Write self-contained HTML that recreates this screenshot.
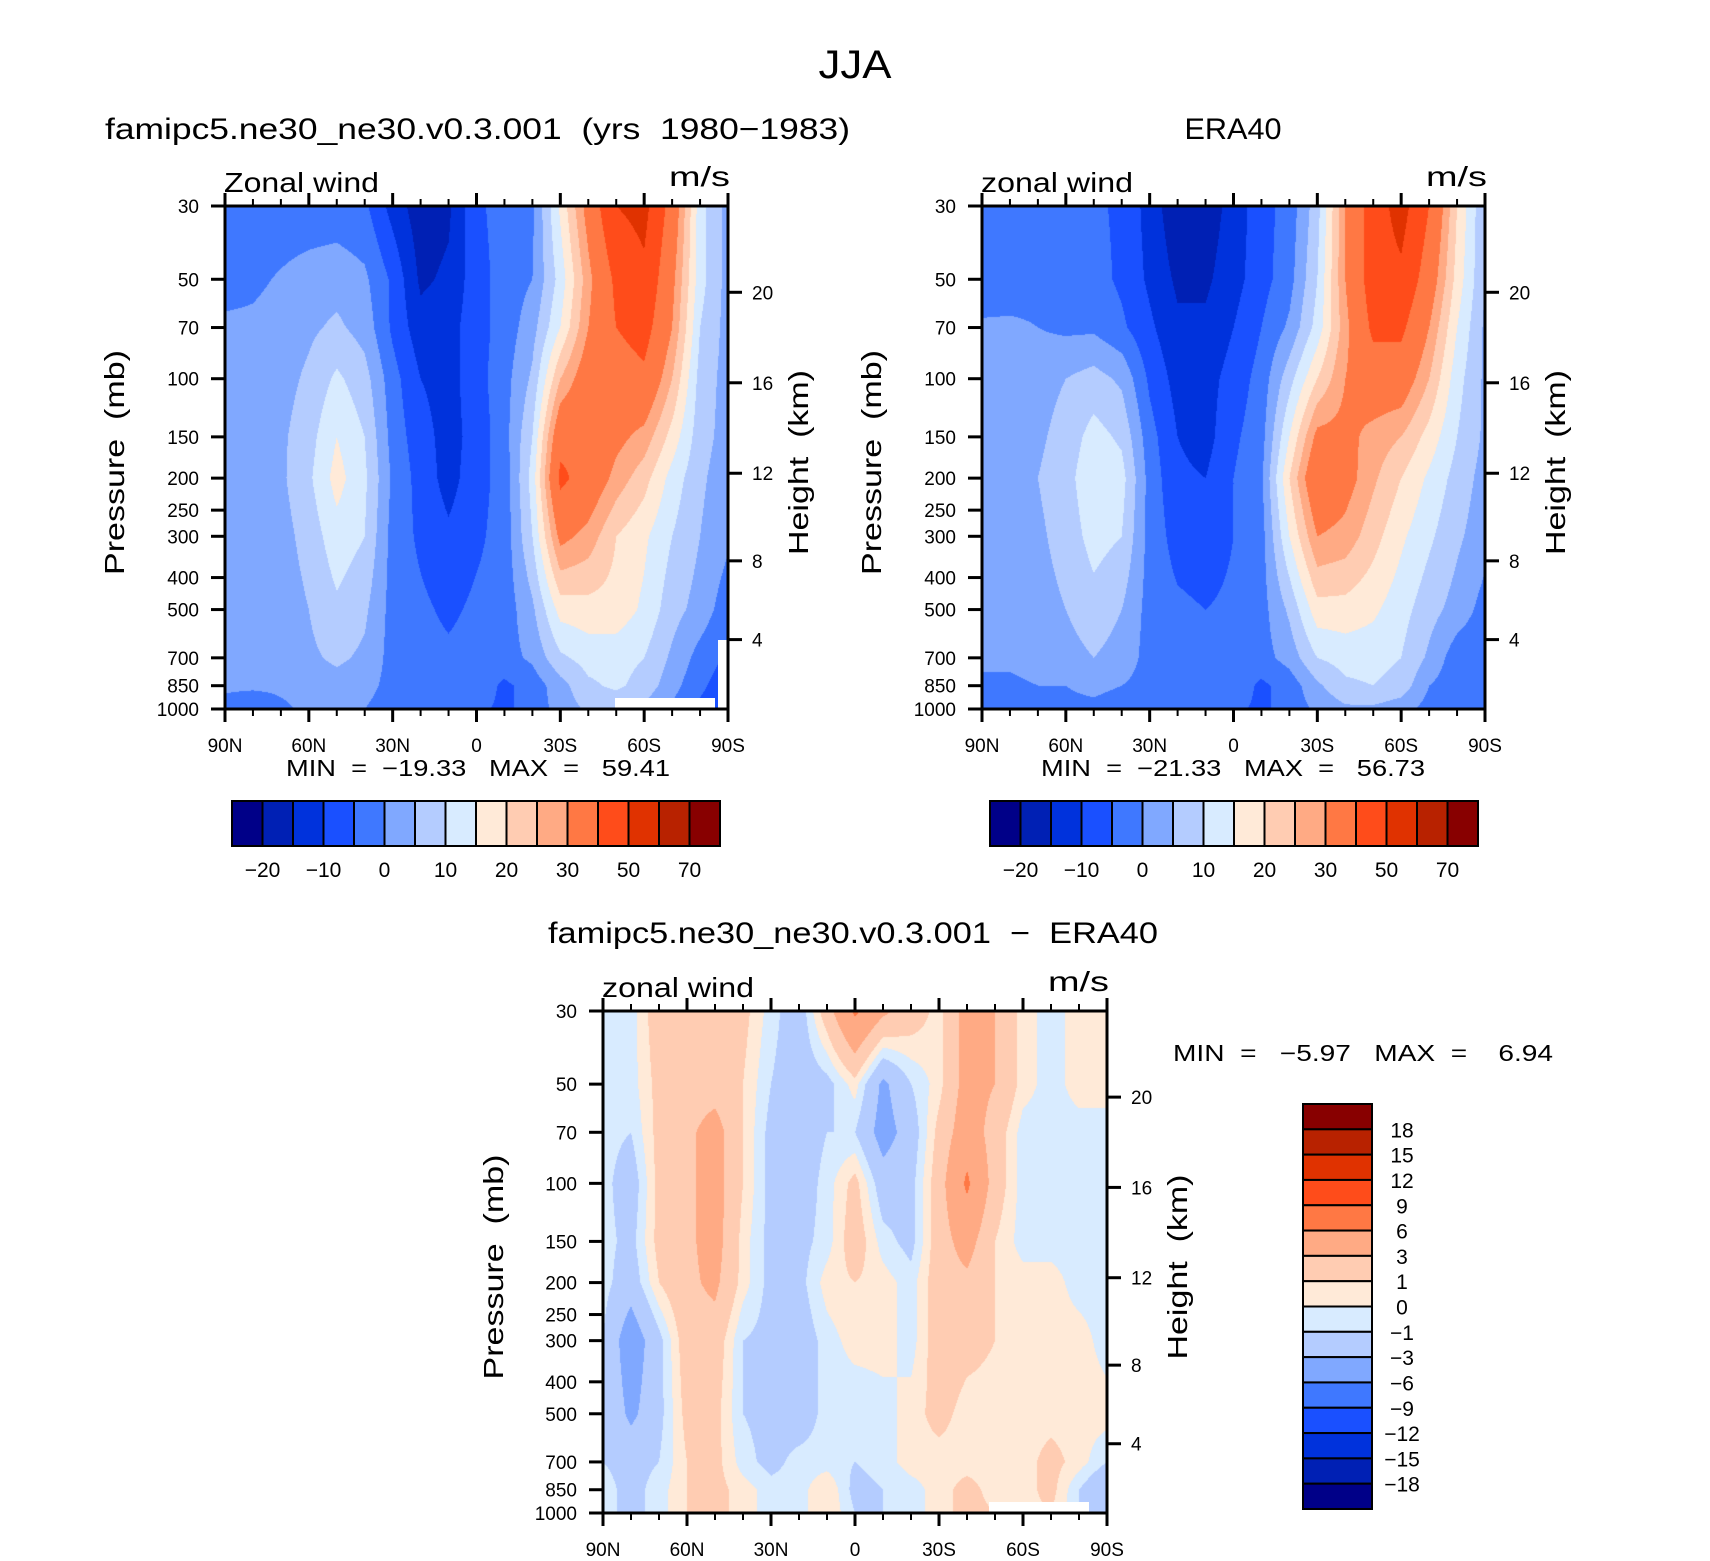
<!DOCTYPE html>
<html><head><meta charset="utf-8">
<style>
html,body{margin:0;padding:0;background:#fff;}
#wrap{position:relative;width:1710px;height:1561px;overflow:hidden;background:#fff;}
canvas{position:absolute;}
svg{position:absolute;left:0;top:0;}
text{font-family:"Liberation Sans",sans-serif;fill:#000;white-space:pre;}
</style></head>
<body>
<div id="wrap">
<canvas id="c1"></canvas>
<canvas id="c2"></canvas>
<canvas id="c3"></canvas>
<svg id="ov" width="1710" height="1561"></svg>
</div>
<script>
// ---------- data ----------
const lats = [90,80,70,60,50,40,30,20,10,0,-10,-20,-30,-40,-50,-60,-70,-80,-90];
const plevs = [30,50,70,100,150,200,300,500,700,850,1000];
const modelU = [
[-3,-3,-3,-3,-3,-4,-12,-18,-16,-6,-3,-1,16,33,50,53,36,12,3],
[-2,-1,0.5,2,3,1,-6,-16,-14,-7,-3,0,12,28,42,48,32,12,3],
[1,1,2,4,6,3,-6,-13,-12,-7,-3,3,15,30,40,44,30,10,3],
[1,2,3,6,11,7,-3,-10,-12,-7,-2,6,25,35,35,38,25,8,3],
[1,2,4,8,15,10,-2,-8,-12,-8,-2,10,37,38,32,28,18,7,3],
[1,2,4,9,17,11,-1,-7,-12,-7,-3,12,42,36,28,22,13,6,2],
[1,2,3,7,13,10,-2,-6,-9,-6,-3,10,32,28,20,16,10,5,1],
[1,1.5,2,5,9,6,-2,-4,-6,-4,-3,4,17,18,18,14,7,3,-3],
[1,1.5,2,4,6,4,-2,-3,-4,-3,-2,1,9,12,12,10,4,-2,-6],
[1,1,1,2,3,2,-2,-2,-3,-2,-6,-3,3,9,11,8,2,-4,-8],
[-2,-4,-1,1,1,0,-3,-2,-2,-4,-6,-3,2,6,6,4,-1,-6,-8]
];
const eraU = [
[-2,-4,-4,-4,-4,-6,-12,-19,-18,-13,-7,-3,8,30,45,54,40,20,5],
[-4,-3,-2,-1,-3,-6,-11,-16,-16,-12,-7,-2,10,30,45,48,35,18,5],
[1,1,0,-1,-1,-4,-9,-14,-14,-10,-5,1,12,28,42,42,30,15,4],
[2,3,3,5,7,4,-6,-12,-12,-8,-3,8,20,30,35,35,25,12,4],
[2,3,4,7,12,9,-3,-10,-12,-6,-2,15,32,32,28,25,18,10,4],
[2,3,5,8,14,12,-2,-9,-10,-5,-1,20,38,33,26,20,14,8,3],
[2,3,4,7,12,10,-2,-7,-8,-5,-2,15,30,28,22,16,11,6,2],
[2,2,3,5,8,5,-2,-4,-5,-4,-2,6,18,18,16,12,7,3,-2],
[1,1,2,3,5,3,-2,-3,-3,-3,-2,2,10,12,12,10,4,-3,-4],
[-1,-1,0,0,1,0,-2,-2,-3,-2,-6,-3,4,9,10,8,0,-3,-3],
[-2,-2,-2,-1,-1,-2,-3,-3,-3,-4,-6,-3,1,4,4,2,-2,-4,-4]
];
const diffU = [
[-0.5,-0.5,2,2,2,1.5,-0.5,-2,2,6.5,3.5,2,0.5,4,3,0.5,-0.5,0.5,0.5],
[-0.5,-0.5,1.5,2,2,1,-1,-2,-1.5,0.5,-3.5,-1,0.5,4,3,0.5,-0.5,0.5,0.5],
[-0.5,-1,1.5,2.5,4,1,-1.5,-2,-1,-1,-4,-2,1.5,4.5,2,-0.5,-0.5,-0.5,-0.5],
[-0.5,-2,1.5,2.5,4,1,-1.5,-2,-0.5,1.5,-2,-1.5,2,6.5,2,-0.5,-1,-0.5,-0.5],
[-0.5,-1.5,1.5,2.5,4,0.5,-1.5,-1.5,-0.5,2,-0.5,-1.5,2,4,1,-0.5,-0.5,-0.5,-0.5],
[-0.5,-2,1,2.5,3.5,0.5,-1.5,-1.5,0.5,1,0.5,-0.5,2,2.5,1,0.5,0.5,-0.5,-0.5],
[-1,-4.5,-1.5,2,2,-1,-1.5,-2,-0.5,0.5,0.5,-0.5,2,1.5,1,0.5,0.5,0.5,-0.5],
[-1,-3.5,-1.5,1.5,1.5,-1,-1.5,-2,-0.5,-1,-0.5,0.5,1.5,0.5,0.5,0.5,0.5,0.5,0.5],
[-1,-1.5,-1,1,1.5,-0.5,-1.5,-0.5,-0.5,-1,-0.5,0.5,0.5,0.5,0.5,0.5,1.5,0.5,-1],
[-0.5,-1.5,-0.5,1,1.5,0.5,-0.5,-0.5,1,-1.5,-1,-0.5,0.5,1.5,0.5,0.5,1.5,-1,-3],
[-0.5,-1.5,-0.5,1,1.5,0.5,-0.5,-0.5,1,-1,-1,-0.5,0.5,1.5,1,0.5,1,-1,-3]
];
const windLevels = [-20,-15,-10,-5,0,5,10,15,20,25,30,40,50,60,70];
const windLabels = ["−20","−10","0","10","20","30","50","70"];
const diffLevels = [-18,-15,-12,-9,-6,-3,-1,0,1,3,6,9,12,15,18];
const diffLabels = ["18","15","12","9","6","3","1","0","−1","−3","−6","−9","−12","−15","−18"];
const palette = ["#000088","#0020b4","#0032dc","#1a50ff","#3f78ff","#80a8ff","#b4ccff","#d8ebff",
"#ffead8","#ffccb2","#ffaa84","#ff7844","#ff4c1a","#e03200","#b82200","#880000"];
const latTickLabels = ["90N","60N","30N","0","30S","60S","90S"];
const latTickVals = [90,60,30,0,-30,-60,-90];
const pTickVals = [30,50,70,100,150,200,250,300,400,500,700,850,1000];
const kmTickVals = [4,8,12,16,20];

// ---------- helpers ----------
const NS="http://www.w3.org/2000/svg";
const ov=document.getElementById('ov');
function mk(tag,attrs,parent){const e=document.createElementNS(NS,tag);for(const k in attrs)e.setAttribute(k,attrs[k]);(parent||ov).appendChild(e);return e;}
function txt(s,x,y,size,anchor,extra){const e=mk('text',Object.assign({x:x,y:y,'font-size':size,'text-anchor':anchor||'start'},extra||{}));e.textContent=s;return e;}
const LP0=Math.log(1000),LP1=Math.log(30);
function makeAxes(L,T,W,H){
  return {x:lat=>L+(90-lat)/180*W, y:p=>T+(Math.log(p)-LP1)/(LP0-LP1)*H};
}
function hexRGB(h){return [parseInt(h.substr(1,2),16),parseInt(h.substr(3,2),16),parseInt(h.substr(5,2),16)];}
function sample(grid,lat,p){
  let fi=(90-lat)/10; let i0=Math.max(0,Math.min(Math.floor(fi),lats.length-2)); let tx=fi-i0;
  const lp=Math.log(p); let j0=0;
  while(j0<plevs.length-2 && lp>Math.log(plevs[j0+1])) j0++;
  let ty=(lp-Math.log(plevs[j0]))/(Math.log(plevs[j0+1])-Math.log(plevs[j0]));
  ty=Math.max(0,Math.min(1,ty));
  const a=grid[j0][i0],b=grid[j0][i0+1],c=grid[j0+1][i0],d=grid[j0+1][i0+1];
  return (a*(1-tx)+b*tx)*(1-ty)+(c*(1-tx)+d*tx)*ty;
}
function drawField(id,grid,levels,L,T,W,H){
  const cv=document.getElementById(id);cv.width=W;cv.height=H;cv.style.left=L+'px';cv.style.top=T+'px';
  const ctx=cv.getContext('2d');const img=ctx.createImageData(W,H);
  const rgb=palette.map(hexRGB);
  for(let py=0;py<H;py++){
    const p=Math.exp(LP1+(py+0.5)/H*(LP0-LP1));
    for(let px=0;px<W;px++){
      const lat=90-(px+0.5)/W*180;
      const v=sample(grid,lat,p);
      let k=0;while(k<levels.length&&v>=levels[k])k++;
      const c=rgb[k];const o=(py*W+px)*4;
      img.data[o]=c[0];img.data[o+1]=c[1];img.data[o+2]=c[2];img.data[o+3]=255;
    }
  }
  ctx.putImageData(img,0,0);
}
function kmToP(z){const m=z*1000;if(m<=11000)return 1013.25*Math.pow(1-2.25577e-5*m,5.25588);return 226.32*Math.exp(-(m-11000)/6341.6);}

function frame(L,T,W,H,leftStr,leftLen,presX,heightX,prefix){
  const ax=makeAxes(L,T,W,H);
  const g=mk('g',{});
  
  
  mk('rect',{x:L,y:T,width:W,height:H,fill:'none',stroke:'#000','stroke-width':3},g);
  for(let lat=90;lat>=-90;lat-=10){
    const x=ax.x(lat);const major=(lat%30===0);const len=major?13:7;
    mk('line',{x1:x,y1:T,x2:x,y2:T-len,stroke:'#000','stroke-width':major?3:2},g);
    mk('line',{x1:x,y1:T+H,x2:x,y2:T+H+len,stroke:'#000','stroke-width':major?3:2},g);
  }
  latTickVals.forEach((v,i)=>{const t=txt(latTickLabels[i],ax.x(v),T+H+43,19,'middle',{});
    });
  pTickVals.forEach(p=>{const y=ax.y(p);
    mk('line',{x1:L,y1:y,x2:L-14,y2:y,stroke:'#000','stroke-width':3},g);
    const t=txt(String(p),L-26,y+7,19,'end',{});
    });
  kmTickVals.forEach(z=>{const y=ax.y(kmToP(z));
    mk('line',{x1:L+W,y1:y,x2:L+W+14,y2:y,stroke:'#000','stroke-width':3},g);
    const t=txt(String(z),L+W+24,y+7,19,'start',{});
    });
  const ls=txt(leftStr,L-1,T-14,28,'start',{textLength:leftLen,lengthAdjust:'spacingAndGlyphs'});
  
  const us=txt('m/s',L+W+2,T-20,28,'end',{textLength:61,lengthAdjust:'spacingAndGlyphs'});
  
  const cy=T+H/2+5;
  const pt=txt('Pressure  (mb)',presX,cy,28,'middle',{transform:`rotate(-90 ${presX} ${cy})`,textLength:225,lengthAdjust:'spacingAndGlyphs'});
  
  const ht=txt('Height  (km)',heightX,cy,28,'middle',{transform:`rotate(-90 ${heightX} ${cy})`,textLength:185,lengthAdjust:'spacingAndGlyphs'});
  
}

// ---------- layout ----------
const P1={L:225,T:206,W:503,H:503}, P2={L:982,T:206,W:503,H:503}, P3={L:603,T:1011,W:504,H:502};
drawField('c1',modelU,windLevels,P1.L,P1.T,P1.W,P1.H);
drawField('c2',eraU,windLevels,P2.L,P2.T,P2.W,P2.H);
drawField('c3',diffU,diffLevels,P3.L,P3.T,P3.W,P3.H);

// missing-data (below-ground) patches
mk('rect',{x:615,y:698,width:100,height:11,fill:'#fff',});
mk('rect',{x:718,y:640,width:10,height:69,fill:'#fff',});
mk('rect',{x:989,y:1502,width:100,height:11,fill:'#fff',});

frame(P1.L,P1.T,P1.W,P1.H,'Zonal wind',155,124,808,'model');
frame(P2.L,P2.T,P2.W,P2.H,'zonal wind',152,881,1565,'era40');
frame(P3.L,P3.T,P3.W,P3.H,'zonal wind',152,503,1187,'diff');

// titles
let t;
t=txt('JJA',855,78,40,'middle',{textLength:73,lengthAdjust:'spacingAndGlyphs'});

t=txt('famipc5.ne30_ne30.v0.3.001  (yrs  1980−1983)',105,139,30,'start',{textLength:745,lengthAdjust:'spacingAndGlyphs'});

t=txt('ERA40',1233,139,30,'middle',{textLength:97,lengthAdjust:'spacingAndGlyphs'});

t=txt('famipc5.ne30_ne30.v0.3.001  −  ERA40',853,943,30,'middle',{textLength:610,lengthAdjust:'spacingAndGlyphs'});

t=txt('MIN  =  −19.33   MAX  =   59.41',286,776,23,'start',{textLength:384,lengthAdjust:'spacingAndGlyphs'});

t=txt('MIN  =  −21.33   MAX  =   56.73',1041,776,23,'start',{textLength:384,lengthAdjust:'spacingAndGlyphs'});

t=txt('MIN  =   −5.97   MAX  =    6.94',1173,1061,23,'start',{textLength:380,lengthAdjust:'spacingAndGlyphs'});


// horizontal colorbars
function hbar(L,T,W,H,prefix){
  const n=palette.length,bw=W/n;
  palette.forEach((c,i)=>{const r=mk('rect',{x:L+i*bw,y:T,width:bw,height:H,fill:c,stroke:'#000','stroke-width':2});
    });
  windLabels.forEach((s,i)=>{const b=1+2*i;const e=txt(s,L+b*bw,T+H+31,21,'middle',{});
    });
}
hbar(232,801,488,45,'model');
hbar(990,801,488,45,'era40');
// vertical colorbar
(function(){
  const L=1303,T=1104,W=69,H=405,n=palette.length,bh=H/n;
  palette.slice().reverse().forEach((c,i)=>{const r=mk('rect',{x:L,y:T+i*bh,width:W,height:bh,fill:c,stroke:'#000','stroke-width':2});
    });
  diffLabels.forEach((s,i)=>{const e=txt(s,1402,T+(i+1)*bh+8,21,'middle',{});
    });
})();
</script>
</body></html>
